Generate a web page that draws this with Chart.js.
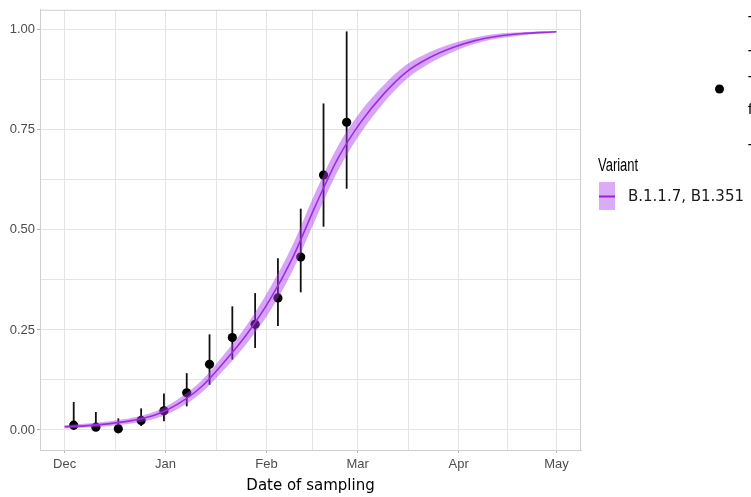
<!DOCTYPE html>
<html>
<head>
<meta charset="utf-8">
<script src="https://cdn.jsdelivr.net/npm/chart.js@4/dist/chart.umd.min.js"></script>
<style>
  html, body { margin: 0; padding: 0; background: #ffffff; }
  canvas { display: block; }
</style>
</head>
<body>
<canvas id="c" width="751" height="497"></canvas>
<script>
// ---- data (days since 1 Dec) ----
const monthDays   = [0, 31, 62, 90, 121, 151];
const monthLabels = ['Dec', 'Jan', 'Feb', 'Mar', 'Apr', 'May'];
const minorDays   = [15.5, 46.5, 76, 105.5, 136];
const yMajor      = [0, 0.25, 0.5, 0.75, 1];
const yMinor      = [0.125, 0.375, 0.625, 0.875];

const obsDays  = [2.8, 9.6, 16.5, 23.5, 30.5, 37.5, 44.5, 51.5, 58.5, 65.5, 72.5, 79.5, 86.6];
const obsShare = [0.012, 0.007, 0.003, 0.024, 0.048, 0.093, 0.164, 0.231, 0.264, 0.330, 0.432, 0.637, 0.769];
const obsLow   = [0.000, 0.000, 0.000, 0.010, 0.022, 0.059, 0.113, 0.176, 0.205, 0.260, 0.344, 0.508, 0.603];
const obsHigh  = [0.070, 0.045, 0.029, 0.054, 0.091, 0.142, 0.239, 0.309, 0.342, 0.429, 0.553, 0.816, 0.996];

const fitDays = [0, 7, 14, 21, 28, 35, 42, 49, 56, 63, 70, 77, 84, 91, 98, 105, 112, 119, 126, 133, 140, 151];
const fitMid  = [0.008, 0.011, 0.016, 0.024, 0.038, 0.066, 0.108, 0.170, 0.240, 0.325, 0.430, 0.560, 0.680, 0.770, 0.840, 0.895, 0.930, 0.955, 0.973, 0.984, 0.990, 0.995];
const fitLow  = [0.004, 0.006, 0.010, 0.017, 0.029, 0.054, 0.093, 0.151, 0.217, 0.296, 0.398, 0.526, 0.649, 0.743, 0.818, 0.877, 0.916, 0.944, 0.965, 0.978, 0.986, 0.993];
const fitHigh = [0.012, 0.016, 0.022, 0.031, 0.047, 0.078, 0.123, 0.189, 0.263, 0.354, 0.462, 0.594, 0.711, 0.797, 0.862, 0.913, 0.944, 0.966, 0.981, 0.990, 0.994, 0.997];

const legendTitle = 'Variant';
const legendLabel = 'B.1.1.7, B1.351';
const xTitle = 'Date of sampling';

// ---- helpers ----
const pts = (xs, ys) => xs.map((x, i) => ({ x: x, y: ys[i] }));
const BAND = 'rgba(170, 56, 238, 0.46)';
const LINE = '#9326cf';
const GRID = '#e4e4e4';
const AXIS_TXT = '#4d4d4d';
const SANS = '"Liberation Sans", Arial, sans-serif';

const errorBars = {
  id: 'errorBars',
  beforeDatasetDraw(chart, args) {
    if (args.index !== 3) return;
    const { ctx, scales: { x, y } } = chart;
    ctx.save();
    ctx.strokeStyle = '#111111';
    ctx.lineWidth = 1.8;
    obsDays.forEach((d, i) => {
      const px = x.getPixelForValue(d);
      ctx.beginPath();
      ctx.moveTo(px, y.getPixelForValue(obsLow[i]));
      ctx.lineTo(px, y.getPixelForValue(obsHigh[i]));
      ctx.stroke();
    });
    ctx.restore();
  }
};

const panelBorder = {
  id: 'panelBorder',
  beforeDatasetsDraw(chart) {
    const { ctx, chartArea: a } = chart;
    ctx.save();
    ctx.strokeStyle = '#cfcfcf';
    ctx.lineWidth = 1;
    ctx.strokeRect(a.left + 0.5, a.top + 0.5, a.right - a.left - 1, a.bottom - a.top);
    ctx.restore();
  }
};

const sideLegend = {
  id: 'sideLegend',
  afterDraw(chart) {
    const ctx = chart.ctx;
    ctx.save();
    // Variant legend
    ctx.fillStyle = '#000000';
    ctx.textBaseline = 'middle';
    ctx.textAlign = 'left';
    ctx.font = '16px ' + SANS;
    ctx.save();
    ctx.translate(598, 166);
    ctx.scale(0.81, 1.1);
    ctx.fillText(legendTitle, 0, 0);
    ctx.restore();
    ctx.fillStyle = 'rgba(170, 56, 238, 0.42)';
    ctx.fillRect(599, 182, 16, 28);
    ctx.strokeStyle = LINE;
    ctx.lineWidth = 2;
    ctx.beginPath();
    ctx.moveTo(599, 196.5);
    ctx.lineTo(615, 196.5);
    ctx.stroke();
    ctx.fillStyle = '#1a1a1a';
    ctx.font = '15px "DejaVu Sans", sans-serif';
    ctx.fillText(legendLabel, 628, 197);
    // clipped second legend (point key)
    ctx.fillStyle = '#000000';
    ctx.beginPath();
    ctx.arc(719.5, 89, 4.5, 0, Math.PI * 2);
    ctx.fill();
    ctx.font = '15px ' + SANS;
    ctx.fillText('T', 748, 22);
    ctx.fillText('T', 748, 56);
    ctx.fillText('T', 748, 82);
    ctx.fillText('f', 748, 110);
    ctx.fillText('T', 748, 150);
    ctx.restore();
  }
};

new Chart(document.getElementById('c'), {
  data: {
    datasets: [
      { type: 'line', data: pts(fitDays, fitLow), borderWidth: 0, borderColor: 'transparent',
        pointRadius: 0, fill: false, cubicInterpolationMode: 'monotone' },
      { type: 'line', data: pts(fitDays, fitHigh), borderWidth: 0, borderColor: 'transparent',
        backgroundColor: BAND, pointRadius: 0, fill: '-1', cubicInterpolationMode: 'monotone' },
      { type: 'line', data: pts(fitDays, fitMid), borderWidth: 1.6, borderColor: LINE,
        pointRadius: 0, fill: false, cubicInterpolationMode: 'monotone' },
      { type: 'scatter', data: pts(obsDays, obsShare), pointRadius: 4.6,
        backgroundColor: '#000000', borderColor: '#000000', borderWidth: 0 }
    ]
  },
  options: {
    responsive: false,
    animation: false,
    layout: { padding: { top: 7, right: 170, left: 0, bottom: 0 } },
    plugins: { legend: { display: false }, tooltip: { enabled: false } },
    scales: {
      x: {
        type: 'linear',
        min: -7.55, max: 158.55,
        afterFit(s) { s.height = 47; },
        afterBuildTicks(s) {
          s.ticks = monthDays.concat(minorDays).sort((a, b) => a - b).map(v => ({ value: v }));
        },
        ticks: {
          autoSkip: false, maxRotation: 0, padding: 4,
          color: AXIS_TXT, font: { family: SANS, size: 13 },
          callback(v) { const i = monthDays.indexOf(v); return i >= 0 ? monthLabels[i] : ''; }
        },
        grid: {
          color: GRID, lineWidth: 1, tickLength: 3,
          tickColor: c => (c.tick && monthDays.indexOf(c.tick.value) >= 0) ? '#b3b3b3' : 'rgba(0,0,0,0)'
        },
        border: { display: true, color: '#cfcfcf' },
        title: { display: true, text: xTitle, color: '#000000',
          font: { family: '"DejaVu Sans", sans-serif', size: 15 }, padding: { top: 0, bottom: 2 } }
      },
      y: {
        type: 'linear',
        min: -0.05, max: 1.05,
        afterFit(s) { s.width = 40; },
        afterBuildTicks(s) {
          s.ticks = yMajor.concat(yMinor).sort((a, b) => a - b).map(v => ({ value: v }));
        },
        ticks: {
          autoSkip: false, padding: 2,
          color: AXIS_TXT, font: { family: SANS, size: 13 },
          callback(v) { return yMajor.indexOf(v) >= 0 ? v.toFixed(2) : ''; }
        },
        grid: {
          color: GRID, lineWidth: 1, tickLength: 3,
          tickColor: c => (c.tick && yMajor.indexOf(c.tick.value) >= 0) ? '#b3b3b3' : 'rgba(0,0,0,0)'
        },
        border: { display: true, color: '#cfcfcf' }
      }
    }
  },
  plugins: [errorBars, panelBorder, sideLegend]
});
</script>
</body>
</html>
